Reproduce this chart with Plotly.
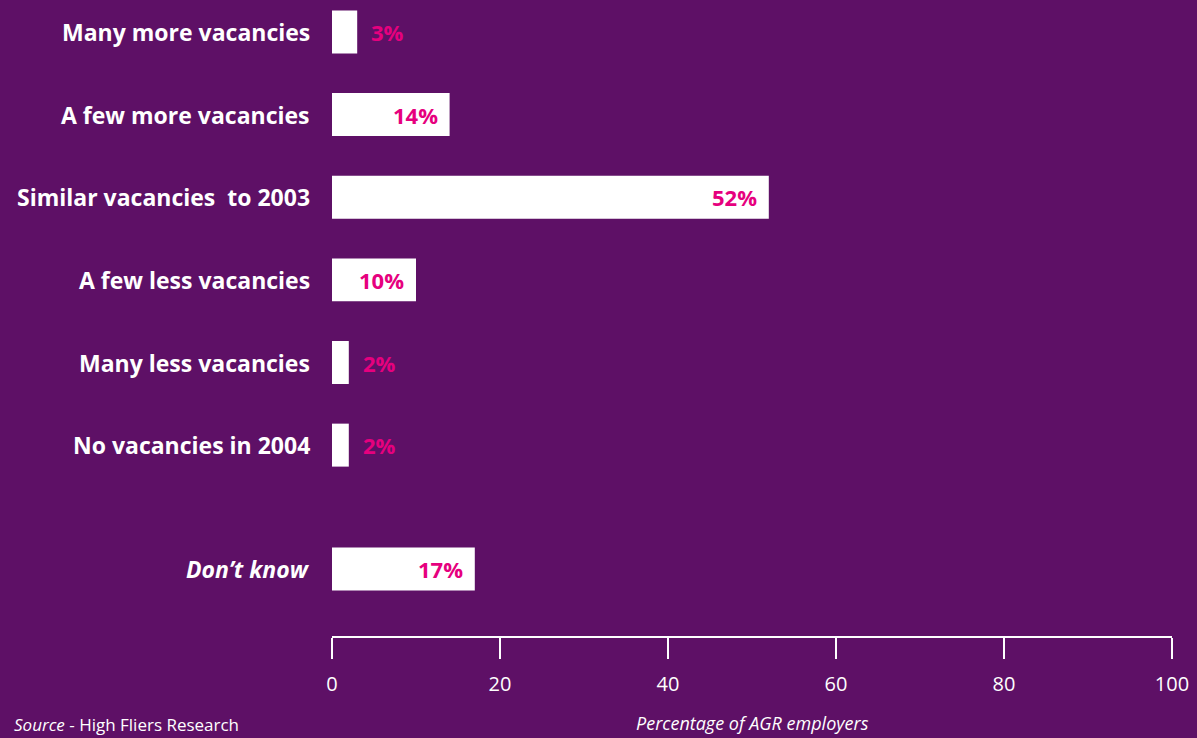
import plotly.graph_objects as go

# Survey responses: expected graduate vacancies in 2004
categories = [
    "Many more vacancies",
    "A few more vacancies",
    "Similar vacancies  to 2003",
    "A few less vacancies",
    "Many less vacancies",
    "No vacancies in 2004",
    "Don\u2019t know",
]
percentages = [3, 14, 52, 10, 2, 2, 17]
# Row positions (the "Don't know" row sits apart from the rest)
row_pos = [0, 1, 2, 3, 4, 5, 6.5]
italic_rows = [False, False, False, False, False, False, True]
tick_values = [0, 20, 40, 60, 80, 100]

BG = "#5E1066"
PINK = "#E6007E"
FONT = "Open Sans"

fig = go.Figure()
fig.add_trace(go.Bar(
    x=percentages,
    y=row_pos,
    orientation="h",
    width=0.52,
    marker=dict(color="white", line=dict(width=0)),
    hoverinfo="skip",
))

annotations = []
for cat, val, pos, ital in zip(categories, percentages, row_pos, italic_rows):
    label = f"<i>{cat}</i>" if ital else cat
    annotations.append(dict(
        x=0, y=pos, xref="x", yref="y", text=label,
        xanchor="right", yanchor="middle", xshift=-20, showarrow=False,
        font=dict(family=FONT, size=23, color="white", weight="bold"),
    ))
    inside = val >= 5
    annotations.append(dict(
        x=val, y=pos, xref="x", yref="y", text=f"{val}%",
        xanchor="right" if inside else "left", yanchor="middle",
        xshift=-10 if inside else 12, showarrow=False,
        font=dict(family=FONT, size=22, color=PINK, weight="bold"),
    ))

plot_h = 738 - 102
plot_w = 1197 - 332 - 25

annotations.append(dict(
    x=0.5, y=-(723 - plot_h) / plot_h, xref="paper", yref="paper",
    text="<i>Percentage of AGR employers</i>", showarrow=False,
    xanchor="center", yanchor="middle",
    font=dict(family=FONT, size=18, color="white"),
))
annotations.append(dict(
    x=-(332 - 12) / plot_w, y=-(724 - plot_h) / plot_h,
    xref="paper", yref="paper",
    text="<i>Source</i> - High Fliers Research", showarrow=False,
    xanchor="left", yanchor="middle",
    font=dict(family=FONT, size=17, color="white"),
))

fig.update_layout(
    width=1197, height=738,
    margin=dict(l=332, r=25, t=0, b=102),
    paper_bgcolor=BG, plot_bgcolor=BG,
    showlegend=False,
    annotations=annotations,
    xaxis=dict(
        range=[0, 100], tickvals=tick_values,
        ticktext=[str(v) for v in tick_values],
        showgrid=False, zeroline=False,
        showline=True, linecolor="white", linewidth=2,
        ticks="outside", ticklen=21, tickwidth=2, tickcolor="white",
        tickfont=dict(family=FONT, size=20, color="white"),
        ticklabelstandoff=8,
        fixedrange=True,
    ),
    yaxis=dict(
        range=[7.31, -0.387], showticklabels=False, showgrid=False,
        zeroline=False, showline=False, ticks="", fixedrange=True,
    ),
)

fig.write_html("out.html")
